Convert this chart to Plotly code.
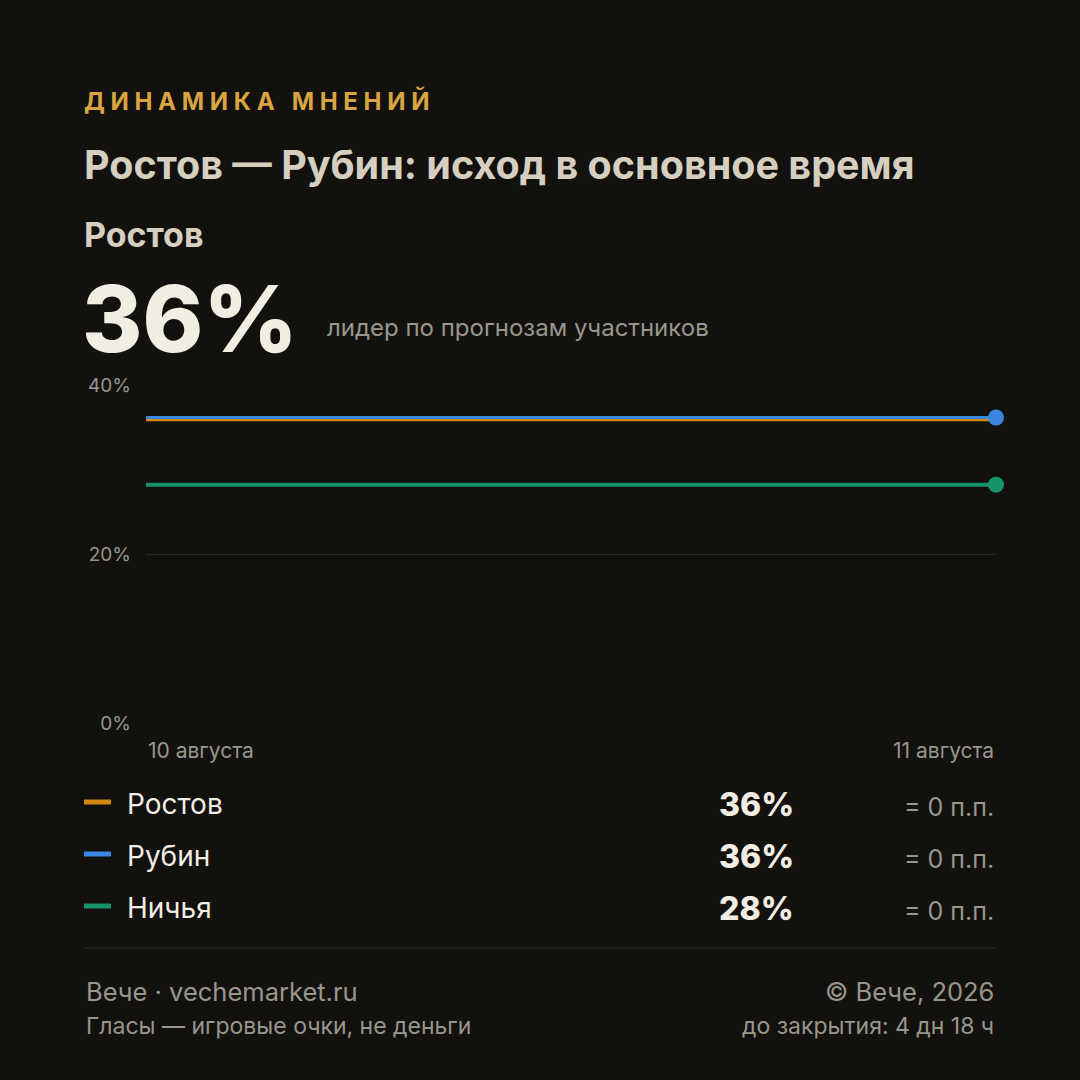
import plotly.graph_objects as go

dates = ["10 августа", "11 августа"]
series = ["Ростов", "Рубин", "Ничья"]
values = {
    "Ростов": [36, 36],
    "Рубин": [36.15, 36.15],
    "Ничья": [28.2, 28.2],
}
shown = ["36%", "36%", "28%"]
changes = ["= 0 п.п.", "= 0 п.п.", "= 0 п.п."]
colors = {"Ростов": "#d08a12", "Рубин": "#3a86e0", "Ничья": "#17936a"}
widths = {"Ростов": 5, "Рубин": 3, "Ничья": 4}
msizes = {"Ростов": 13, "Рубин": 16, "Ничья": 16}
y_ticks = [0, 20, 40]
y_labels = ["0%", "20%", "40%"]

BG = "#12110e"
FONT = "Inter, Roboto, sans-serif"

fig = go.Figure()
x_idx = list(range(len(dates)))
for s in series:
    fig.add_trace(go.Scatter(
        x=x_idx, y=values[s], mode="lines",
        line=dict(color=colors[s], width=widths[s]),
        hoverinfo="skip", showlegend=False,
    ))
for s in series:
    fig.add_trace(go.Scatter(
        x=[x_idx[-1]], y=[values[s][-1]], mode="markers",
        marker=dict(color=colors[s], size=msizes[s]),
        cliponaxis=False, hoverinfo="skip", showlegend=False,
    ))

ann = []
def text(x, y, t, size, color, weight=400, xanchor="left"):
    ann.append(dict(x=x, y=y, xref="paper", yref="paper", text=t, showarrow=False,
                    xanchor=xanchor, yanchor="middle",
                    font=dict(family=FONT, size=size, color=color, weight=weight)))

# paper coords: plot area is x 146..996 px, y 385..723 px
def px(x):
    return (x - 146) / 850
def py(y):
    return (723 - y) / 338

text(px(82), py(101), "Д И Н А М И К А   М Н Е Н И Й", 24, "#d9a441", 700)
text(px(82), py(165), "Ростов — Рубин: исход в основное время", 39.5, "#d6cfc0", 700)
text(px(82), py(234), "Ростов", 34, "#d6cfc0", 700)
text(px(80), py(318), "36%", 92, "#f2ede2", 800)
text(px(325), py(327), "лидер по прогнозам участников", 24, "#9a968c")
text(px(146), py(750), dates[0], 21, "#9a968c")
text(px(996), py(750), dates[1], 21, "#9a968c", xanchor="right")

for i, s in enumerate(series):
    yy = 804 + 52 * i
    fig.add_shape(type="line", xref="paper", yref="paper",
                  x0=px(84), x1=px(111), y0=py(yy - 2), y1=py(yy - 2),
                  line=dict(color=colors[s], width=5))
    text(px(125), py(yy), s, 28, "#f2ede2")
    text(px(796), py(yy), shown[i], 32, "#f2ede2", 800, xanchor="right")
    text(px(996), py(yy + 3), changes[i], 25, "#9a968c", xanchor="right")

fig.add_shape(type="line", xref="paper", yref="paper",
              x0=px(84), x1=px(996), y0=py(948), y1=py(948),
              line=dict(color="#2e2c27", width=1))
text(px(84), py(991), "Вече · vechemarket.ru", 25.5, "#9a968c")
text(px(84), py(1026), "Гласы — игровые очки, не деньги", 23, "#9a968c")
text(px(996), py(991), "© Вече, 2026", 25.5, "#9a968c", xanchor="right")
text(px(996), py(1026), "до закрытия: 4 дн 18 ч", 23, "#9a968c", xanchor="right")

fig.update_layout(
    width=1080, height=1080,
    paper_bgcolor=BG, plot_bgcolor=BG,
    margin=dict(l=146, r=84, t=385, b=357),
    annotations=ann,
    xaxis=dict(range=[0, 1], showgrid=False, zeroline=False, showticklabels=False, fixedrange=True),
    yaxis=dict(range=[0, 40], tickvals=y_ticks, ticktext=y_labels, showgrid=True,
               gridcolor="#2a2824", zeroline=False, ticks="", ticklabelstandoff=14,
               tickfont=dict(family=FONT, size=19, color="#9a968c")),
)

fig.write_html("out.html", config={"displayModeBar": False},
               post_script="document.body.style.margin='0';document.body.style.background='#12110e';")
